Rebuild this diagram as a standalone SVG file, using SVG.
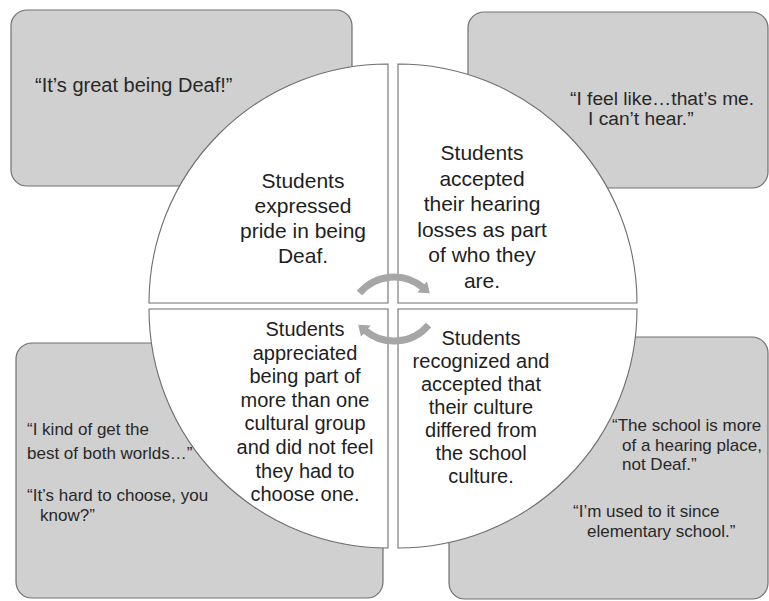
<svg xmlns="http://www.w3.org/2000/svg" width="769" height="601" viewBox="0 0 769 601">
<defs>
<style>
.box{fill:#d0d0d0;stroke:#707070;stroke-width:1.2}
.quad{fill:#ffffff;stroke:#6e6e6e;stroke-width:1.1}
.qt{font-family:"Liberation Sans",Arial,sans-serif;font-size:21px;fill:#1e1e1e;text-anchor:middle}
.qb{font-family:"Liberation Sans",Arial,sans-serif;font-size:20px;fill:#1e1e1e;text-anchor:middle}
.quote{font-family:"Liberation Sans",Arial,sans-serif;fill:#282828}
.arc{fill:none;stroke:#a6a6a6;stroke-width:7;marker-end:url(#ah)}
</style>
<marker id="ah" markerUnits="userSpaceOnUse" viewBox="0 0 10 15" markerWidth="10" markerHeight="15" refX="1" refY="7.5" orient="auto">
<path d="M0,0 L10,7.5 L0,15 Z" fill="#a6a6a6"/>
</marker>
</defs>
<rect width="769" height="601" fill="#ffffff"/>

<g id="quote-tl">
<rect class="box" x="11" y="10" width="341" height="176" rx="16"/>
<text class="quote" x="35" y="92" font-size="20">“It’s great being Deaf!”</text>
</g>
<g id="quote-tr">
<rect class="box" x="468" y="12" width="300" height="176" rx="16"/>
<text class="quote" font-size="19.2"><tspan x="570" y="105">“I feel like…that’s me.</tspan><tspan x="588" y="125">I can’t hear.”</tspan></text>
</g>
<g id="quote-bl">
<rect class="box" x="16" y="343" width="367" height="255" rx="16"/>
<text class="quote" font-size="17"><tspan x="27" y="435">“I kind of get the</tspan><tspan x="27" y="459">best of both worlds…”</tspan><tspan x="27" y="501">“It’s hard to choose, you</tspan><tspan x="40" y="521">know?”</tspan></text>
</g>
<g id="quote-br">
<rect class="box" x="449" y="337" width="319" height="262" rx="16"/>
<text class="quote" font-size="17"><tspan x="612" y="431">“The school is more</tspan><tspan x="622" y="450.5">of a hearing place,</tspan><tspan x="622" y="470">not Deaf.”</tspan><tspan x="573" y="517">“I’m used to it since</tspan><tspan x="587" y="537">elementary school.”</tspan></text>
</g>

<g id="theme-pride">
<path class="quad" d="M388,303 L149,303 A239,239 0 0 1 388,64 Z"/>
<text class="qt"><tspan x="303" y="188">Students</tspan><tspan x="303" y="213">expressed</tspan><tspan x="303" y="238">pride in being</tspan><tspan x="303" y="263">Deaf.</tspan></text>
</g>
<g id="theme-accept">
<path class="quad" d="M398,303 L398,64 A239,239 0 0 1 637,303 Z"/>
<text class="qt"><tspan x="482" y="160">Students</tspan><tspan x="482" y="185.5">accepted</tspan><tspan x="482" y="211">their hearing</tspan><tspan x="482" y="236.5">losses as part</tspan><tspan x="482" y="262">of who they</tspan><tspan x="482" y="287.5">are.</tspan></text>
</g>
<g id="theme-culture">
<path class="quad" d="M398,309 L637,309 A239,239 0 0 1 398,548 Z"/>
<text class="qb"><tspan x="481" y="345">Students</tspan><tspan x="481" y="368">recognized and</tspan><tspan x="481" y="391">accepted that</tspan><tspan x="481" y="414">their culture</tspan><tspan x="481" y="437">differed from</tspan><tspan x="481" y="460">the school</tspan><tspan x="481" y="483">culture.</tspan></text>
</g>
<g id="theme-groups">
<path class="quad" d="M388,309 L388,548 A239,239 0 0 1 149,309 Z"/>
<text class="qb"><tspan x="305" y="336">Students</tspan><tspan x="305" y="359.6">appreciated</tspan><tspan x="305" y="383.2">being part of</tspan><tspan x="305" y="406.8">more than one</tspan><tspan x="305" y="430.4">cultural group</tspan><tspan x="305" y="454">and did not feel</tspan><tspan x="305" y="477.6">they had to</tspan><tspan x="305" y="501.2">choose one.</tspan></text>
</g>

<g id="connectors">
<path class="arc" d="M359.5,293.1 A45,45 0 0 1 422.9,287.5"/>
<path class="arc" d="M428.5,324.9 A45,45 0 0 1 365.1,330.5"/>
</g>
</svg>
